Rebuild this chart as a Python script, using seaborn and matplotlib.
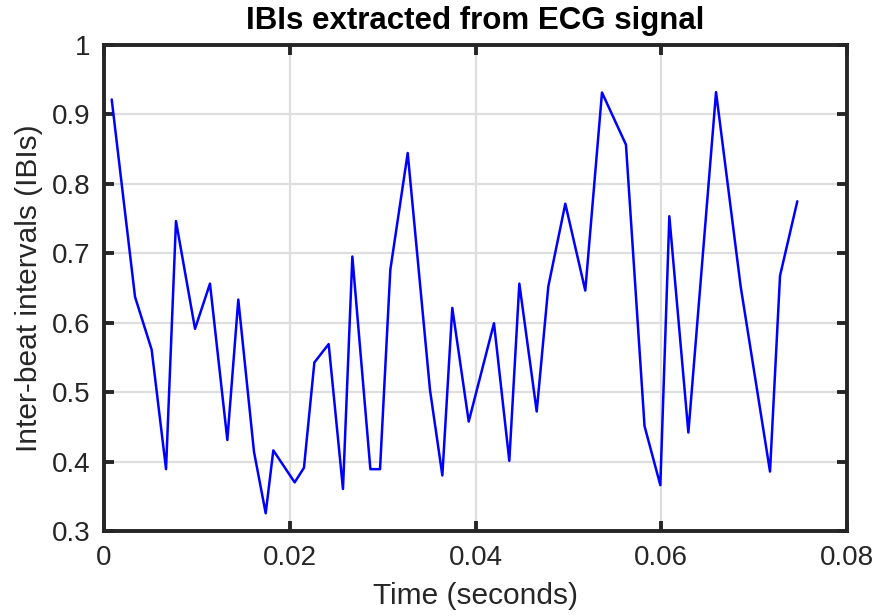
import matplotlib
matplotlib.use("Agg")
import matplotlib.pyplot as plt
from matplotlib.ticker import FuncFormatter
import numpy as np
import pandas as pd
import seaborn as sns

# Beat times (s) and the inter-beat intervals detected at each beat
time_s = [0.00083, 0.00334, 0.00513, 0.00668, 0.00775, 0.00980, 0.01141,
          0.01328, 0.01446, 0.01615, 0.01741, 0.01823, 0.02053, 0.02153,
          0.02265, 0.02419, 0.02573, 0.02674, 0.02868, 0.02972, 0.03083,
          0.03270, 0.03510, 0.03643, 0.03750, 0.03927, 0.04199, 0.04364,
          0.04472, 0.04659, 0.04784, 0.04967, 0.05182, 0.05362, 0.05620,
          0.05820, 0.05990, 0.06087, 0.06292, 0.06590, 0.06855, 0.07171,
          0.07279, 0.07465]
ibi = [0.921, 0.637, 0.561, 0.389, 0.746, 0.591, 0.656,
       0.431, 0.633, 0.414, 0.3255, 0.416, 0.370, 0.391,
       0.5425, 0.569, 0.3605, 0.695, 0.389, 0.389, 0.676,
       0.844, 0.503, 0.380, 0.621, 0.4575, 0.599, 0.401,
       0.656, 0.472, 0.652, 0.771, 0.646, 0.931, 0.856,
       0.451, 0.366, 0.753, 0.4417, 0.9316, 0.652, 0.3855,
       0.6674, 0.7745]

x_ticks = [0, 0.02, 0.04, 0.06, 0.08]
y_ticks = [0.3, 0.4, 0.5, 0.6, 0.7, 0.8, 0.9, 1.0]

title = "IBIs extracted from ECG signal"
x_label = "Time (seconds)"
y_label = "Inter-beat intervals (IBIs)"

df = pd.DataFrame({"t": time_s, "ibi": ibi})

sns.set_style("white")
plt.rcParams["font.family"] = ["Liberation Sans", "DejaVu Sans"]

ink = "#262626"
fig = plt.figure(figsize=(8.76, 6.16), dpi=100)
ax = fig.add_axes([104 / 876, 1 - 531 / 616, (847 - 104) / 876, (531 - 44.6) / 616])

sns.lineplot(data=df, x="t", y="ibi", ax=ax, color="#0000ff", linewidth=1.8,
             estimator=None, sort=False)

ax.set_xlim(0, 0.08)
ax.set_ylim(0.3, 1.0)
ax.set_xticks(x_ticks)
ax.set_yticks(y_ticks)
fmt = FuncFormatter(lambda v, _: f"{v:g}")
ax.xaxis.set_major_formatter(fmt)
ax.yaxis.set_major_formatter(fmt)

ax.grid(True, color="#dedede", linewidth=1.6)
ax.set_axisbelow(True)
for side in ["left", "right", "top", "bottom"]:
    ax.spines[side].set_visible(True)
    ax.spines[side].set_color(ink)
    ax.spines[side].set_linewidth(2.8)
ax.tick_params(axis="both", which="major", direction="in", length=7, width=2.8,
               color=ink, labelcolor=ink, labelsize=20, top=True, right=True,
               bottom=True, left=True, pad=10)

ax.set_xlabel(x_label, fontsize=21.5, color=ink, labelpad=8)
ax.set_ylabel(y_label, fontsize=21.5, color=ink, labelpad=6)
ax.set_title(title, fontsize=22.5, fontweight="bold", color="black", pad=11)

fig.savefig("out.png", dpi=100, facecolor="white")
